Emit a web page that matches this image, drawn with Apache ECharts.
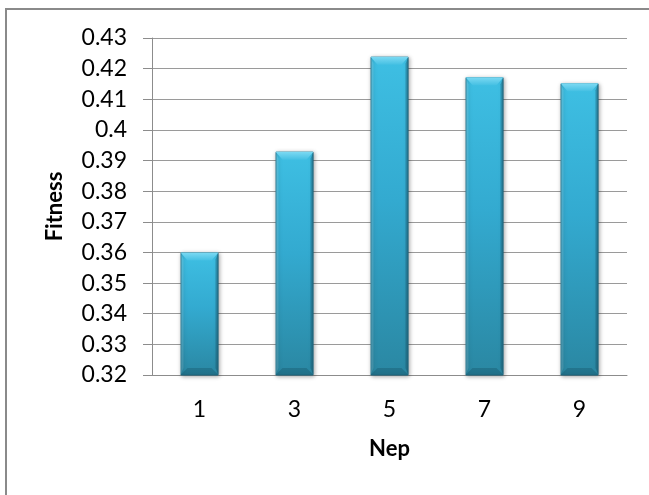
<!DOCTYPE html>
<html>
<head>
<meta charset="utf-8">
<script src="https://cdn.jsdelivr.net/npm/echarts@6/dist/echarts.min.js"></script>
<style>
html,body{margin:0;padding:0;background:#fff;}
#c{width:649px;height:495px;}
</style>
</head>
<body>
<div id="c"></div>
<script>
const categories = ['1', '3', '5', '7', '9'];
const fitness = [0.3600, 0.3929, 0.4239, 0.4172, 0.4152];
const yMin = 0.32, yMax = 0.43, yStep = 0.01;

const chart = echarts.init(document.getElementById('c'), null, {renderer: 'canvas'});
const fontFam = 'Lato, "Open Sans", sans-serif';
const BW = 38, BEV = 7;

function bevel(params, api) {
  const idx = api.value(0);
  const top = api.coord([idx, api.value(1)]);
  const bot = api.coord([idx, yMin]);
  const x0 = top[0] - BW / 2, x1 = top[0] + BW / 2;
  const yt = top[1], yb = bot[1];
  return {
    type: 'group',
    children: [
      {type: 'polygon', shape: {points: [[x0, yt], [x1, yt], [x1 - BEV, yt + BEV + 1], [x0 + BEV, yt + BEV + 1]]},
       style: {fill: new echarts.graphic.LinearGradient(0, 0, 0, 1, [{offset: 0, color: '#7ddaf3'}, {offset: 1, color: '#45c0e3'}])}},
      {type: 'polygon', shape: {points: [[x0, yb], [x1, yb], [x1 - BEV, yb - BEV], [x0 + BEV, yb - BEV]]},
       style: {fill: 'rgba(20,80,100,0.35)'}},
      {type: 'polygon', shape: {points: [[x1, yt], [x1, yb], [x1 - 3, yb - BEV], [x1 - 3, yt + BEV]]},
       style: {fill: 'rgba(20,70,90,0.35)'}},
      {type: 'polygon', shape: {points: [[x0, yt], [x0, yb], [x0 + 3, yb - BEV], [x0 + 3, yt + BEV]]},
       style: {fill: 'rgba(255,255,255,0.12)'}}
    ]
  };
}

chart.setOption({
  animation: false,
  backgroundColor: '#ffffff',
  grid: {left: 152, right: 22, top: 38, bottom: 120},
  graphic: [{
    type: 'rect', silent: true, z: -1,
    shape: {x: 6, y: 9, width: 800, height: 700},
    style: {fill: 'none', stroke: '#8a8a8a', lineWidth: 2}
  }],
  xAxis: {
    type: 'category',
    data: categories,
    name: 'Nep',
    nameLocation: 'middle',
    nameGap: 63,
    nameTextStyle: {fontFamily: fontFam, fontSize: 22, fontWeight: 'bold', color: '#000'},
    axisLine: {lineStyle: {color: '#8c8c8c', width: 1}},
    axisTick: {show: false},
    axisLabel: {fontFamily: fontFam, fontSize: 23, color: '#000', margin: 23}
  },
  yAxis: {
    type: 'value',
    min: yMin, max: yMax, interval: yStep,
    name: 'Fitness',
    nameLocation: 'middle',
    nameGap: 86,
    nameRotate: 90,
    nameTextStyle: {fontFamily: fontFam, fontSize: 22, fontWeight: 'bold', color: '#000'},
    axisLine: {show: true, lineStyle: {color: '#8c8c8c', width: 1}},
    axisTick: {show: true, length: 9, inside: false, lineStyle: {color: '#8c8c8c'}},
    axisLabel: {fontFamily: fontFam, fontSize: 23, color: '#000', margin: 25,
      formatter: v => String(parseFloat(v.toFixed(2)))},
    splitLine: {show: true, lineStyle: {color: '#9a9a9a', width: 1}}
  },
  series: [{
    type: 'bar',
    data: fitness,
    barWidth: BW,
    itemStyle: {
      color: new echarts.graphic.LinearGradient(0, 0, 0, 1, [
        {offset: 0, color: '#3ebfe3'},
        {offset: 0.45, color: '#33aad0'},
        {offset: 1, color: '#2a87a2'}
      ]),
      borderColor: '#23738b',
      borderWidth: 1,
      shadowColor: 'rgba(0,0,0,0.35)',
      shadowBlur: 4,
      shadowOffsetX: 1,
      shadowOffsetY: 1
    }
  }, {
    type: 'custom',
    data: fitness.map((v, i) => [i, v]),
    renderItem: bevel,
    encode: {x: 0, y: 1},
    silent: true,
    z: 3
  }]
});
</script>
</body>
</html>
